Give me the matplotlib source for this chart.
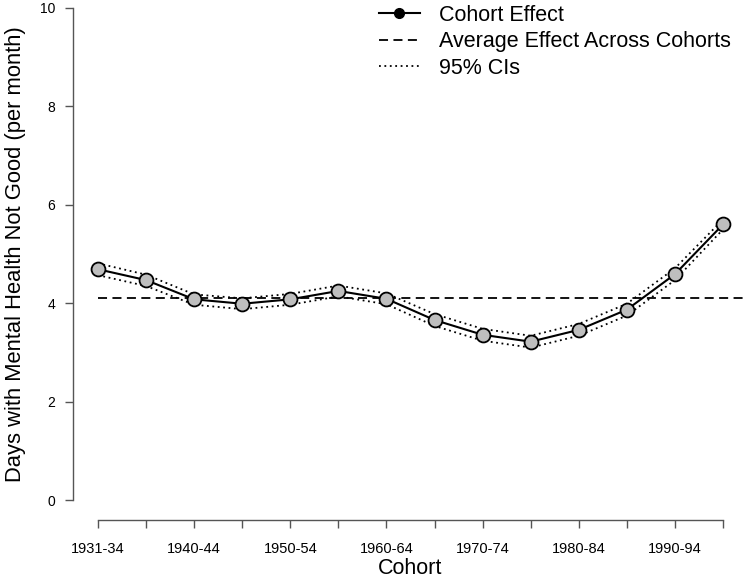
import matplotlib.pyplot as plt
from matplotlib.lines import Line2D

plt.rcParams['font.family'] = ['Liberation Sans', 'DejaVu Sans']

# kohorte i procjene (citano sa slike)
cohorts = ['1931-34', '1935-39', '1940-44', '1945-49', '1950-54', '1955-59', '1960-64',
           '1965-69', '1970-74', '1975-79', '1980-84', '1985-89', '1990-94', '1995-99']
effect = [4.69, 4.47, 4.08, 3.99, 4.08, 4.25, 4.09, 3.66, 3.36, 3.22, 3.46, 3.87, 4.59, 5.60]
upper = [4.81, 4.58, 4.18, 4.10, 4.19, 4.36, 4.20, 3.78, 3.48, 3.34, 3.58, 3.99, 4.71, 5.70]
lower = [4.57, 4.35, 3.97, 3.88, 3.97, 4.14, 3.98, 3.54, 3.24, 3.10, 3.34, 3.75, 4.47, 5.50]
avg_effect = 4.11
yticks = [0, 2, 4, 6, 8, 10]

x = list(range(1, len(cohorts) + 1))

fig = plt.figure(figsize=(7.48, 5.81), dpi=100)
ax = fig.add_axes([73/748, 1 - 520/581, 1 - 73/748, 532/581])

ax.plot(x, upper, color='black', lw=1.3, linestyle=(0, (1, 2)))
ax.plot(x, lower, color='black', lw=1.3, linestyle=(0, (1, 2)))
ax.hlines(avg_effect, x[0], x[-1] + 0.6, color='black', lw=1.3, linestyles=(0, (5, 3)))
ax.plot(x, effect, color='black', lw=1.5, marker='o', markersize=10,
        markerfacecolor='#bebebe', markeredgecolor='black', markeredgewidth=1.3)

ax.set_xlim(0.48, 14.52)
ax.set_ylim(-0.4, 10.4)

for s in ['top', 'right']:
    ax.spines[s].set_visible(False)
ax.spines['left'].set_bounds(0, 10)
ax.spines['bottom'].set_bounds(1, 14)
for s in ['left', 'bottom']:
    ax.spines[s].set_color('#555555')
    ax.spines[s].set_linewidth(1.0)

ax.set_xticks(x)
ax.set_xticklabels([c if i % 2 == 0 else '' for i, c in enumerate(cohorts)])
ax.set_yticks(yticks)
ax.set_yticklabels([str(v) for v in yticks])
ax.tick_params(axis='both', direction='out', length=6, width=1.0, color='#555555')
ax.tick_params(axis='x', labelsize=10.5, pad=10)
ax.tick_params(axis='y', labelsize=10, pad=7)

ax.set_xlabel('Cohort', fontsize=15.5, labelpad=1)
ax.set_ylabel('Days with Mental Health Not Good (per month)', fontsize=15.8, labelpad=10)

handles = [
    Line2D([], [], color='black', lw=1.5, marker='o', markersize=7, markerfacecolor='black'),
    Line2D([], [], color='black', lw=1.3, linestyle=(0, (5, 3))),
    Line2D([], [], color='black', lw=1.3, linestyle=(0, (1, 2))),
]
labels = ['Cohort Effect', 'Average Effect Across Cohorts', '95% CIs']
fig.legend(handles, labels, loc='upper left', bbox_to_anchor=(379/748, 1 - 5/581),
           frameon=False, fontsize=15.5, handlelength=1.9, handletextpad=0.9,
           labelspacing=0.25, borderaxespad=0, borderpad=0)

fig.savefig('out.png', dpi=100)
